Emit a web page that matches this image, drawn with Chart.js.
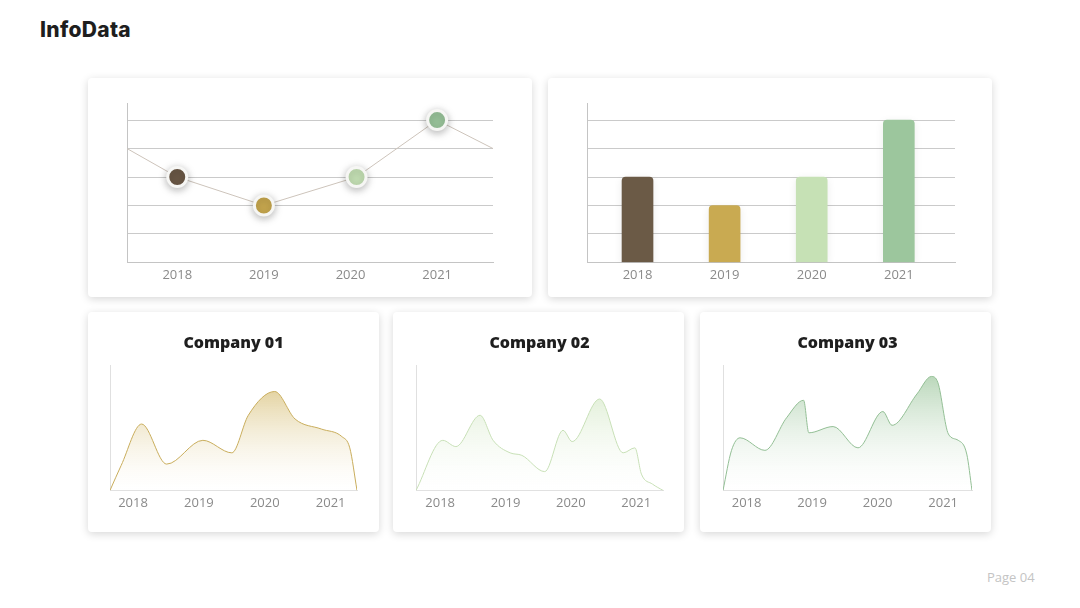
<!DOCTYPE html>
<html>
<head>
<meta charset="utf-8">
<script src="https://cdn.jsdelivr.net/npm/chart.js@4.4.0/dist/chart.umd.min.js"></script>
<style>
  html, body { margin: 0; padding: 0; background: #fff; }
  body { width: 1080px; height: 608px; position: relative; overflow: hidden; font-family: 'Open Sans', sans-serif; }
  h1 { position: absolute; left: 40px; top: 17px; margin: 0; font: 800 21px 'Inter', sans-serif; color: #1e1e1e; letter-spacing: 0.3px; }
  .card { position: absolute; background: #fff; border-radius: 4px; box-shadow: 0 2px 9px rgba(0,0,0,0.16); }
  .card canvas { position: absolute; left: 0; top: 0; }
  .page { position: absolute; left: 987px; top: 568px; font-size: 13px; color: #c4c4c4; }
</style>
</head>
<body>
<h1>InfoData</h1>

<div class="card" style="left:88px;top:78px;width:444px;height:219px"><canvas id="trendChart" width="444" height="219"></canvas></div>
<div class="card" style="left:548px;top:78px;width:444px;height:219px"><canvas id="barChart" width="444" height="219"></canvas></div>
<div class="card" style="left:88px;top:312px;width:291px;height:220px"><canvas id="company1" width="291" height="220"></canvas></div>
<div class="card" style="left:393px;top:312px;width:291px;height:220px"><canvas id="company2" width="291" height="220"></canvas></div>
<div class="card" style="left:700px;top:312px;width:291px;height:220px"><canvas id="company3" width="291" height="220"></canvas></div>

<div class="page">Page 04</div>

<script>
// tick labels
const yearTicks = [2018, 2019, 2020, 2021];
const levelTicks = [0, 1, 2, 3, 4, 5];

// top left: line with coloured markers (first/last points run to the edges)
const trendYears = [2017.42, 2018, 2019, 2020.07, 2021, 2021.645];
const trendValues = [4, 3, 2, 3, 5, 4];
const markerColors = ['#6b5846', '#c9a94f', '#c6e2b6', '#9bc69c'];

// top right: bars
const barYears = [2018, 2019, 2020, 2021];
const barValues = [3, 2, 3, 5];
const barColors = ['#6b5a46', '#c9aa51', '#c6e1b5', '#9cc69d'];

// bottom: area charts
const company1Years = [2017.65, 2017.82, 2018.13, 2018.51, 2019.06, 2019.5, 2019.75, 2020.15, 2020.46, 2020.86, 2021.17, 2021.29, 2021.4];
const company1Values = [0, 20, 53, 21, 40, 30, 60, 79, 57, 49, 43, 34, 0];

const company2Years = [2017.63, 2018.04, 2018.24, 2018.61, 2018.81, 2019.07, 2019.25, 2019.6, 2019.88, 2020.02, 2020.44, 2020.8, 2020.98, 2021.08, 2021.25, 2021.41];
const company2Values = [0, 40, 35, 60, 40, 30, 28, 15, 48, 39, 73, 30, 34, 13, 5, 0];

const company3Years = [2017.64, 2017.77, 2017.9, 2018.28, 2018.61, 2018.87, 2018.95, 2019.32, 2019.7, 2020.08, 2020.22, 2020.6, 2020.82, 2020.92, 2021.08, 2021.23, 2021.36, 2021.44];
const company3Values = [0, 32, 42, 32, 58, 72, 46, 51, 34, 63, 52, 77, 91, 86, 45, 40, 29, 0];

Chart.defaults.font.family = "'Open Sans', sans-serif";
Chart.defaults.color = '#8a8a8a';
Chart.defaults.animation = false;

// soft drop shadow for datasets that ask for it
const shadowPlugin = {
    id: 'softShadow',
    beforeDatasetDraw(chart, args) {
        const ds = chart.data.datasets[args.index];
        if (!ds.shadowColor) return;
        chart.ctx.save();
        chart.ctx.shadowColor = ds.shadowColor;
        chart.ctx.shadowBlur = ds.shadowBlur || 6;
        chart.ctx.shadowOffsetY = 2;
    },
    afterDatasetDraw(chart, args) {
        if (chart.data.datasets[args.index].shadowColor) chart.ctx.restore();
    }
};
Chart.register(shadowPlugin);

const toPoints = (xs, ys) => xs.map((x, i) => ({ x: x, y: ys[i] }));

function yearAxis(min, max, borderColor) {
    return {
        type: 'linear',
        min: min,
        max: max,
        offset: false,
        grid: { display: false, drawTicks: false, offset: false },
        border: { display: true, color: borderColor },
        afterBuildTicks: scale => { scale.ticks = yearTicks.map(v => ({ value: v })); },
        ticks: { padding: 5, maxRotation: 0, autoSkip: false, font: { size: 13 }, color: '#8a8a8a', callback: v => String(v) }
    };
}

function levelAxis() {
    return {
        min: 0,
        max: 5.6,
        grid: { color: '#cacaca', drawTicks: false },
        border: { display: true, color: '#c4c4c4' },
        afterBuildTicks: scale => { scale.ticks = levelTicks.map(v => ({ value: v })); },
        ticks: { display: false }
    };
}

const noLegend = { legend: { display: false }, tooltip: { enabled: false } };

// Top left - line chart
new Chart(document.getElementById('trendChart'), {
    type: 'line',
    data: {
        datasets: [{
            data: toPoints(trendYears, trendValues),
            borderColor: '#cdc4bb',
            borderWidth: 1,
            pointRadius: 0,
            tension: 0,
            order: 2
        }, {
            data: toPoints(trendYears.slice(1, 5), trendValues.slice(1, 5)),
            showLine: false,
            pointRadius: 9.5,
            pointBorderWidth: 3,
            pointBackgroundColor: markerColors,
            pointBorderColor: '#f6f6f4',
            shadowColor: 'rgba(0,0,0,0.28)',
            shadowBlur: 8,
            clip: false,
            order: 1
        }]
    },
    options: {
        responsive: false,
        layout: { padding: { left: 39, right: 39, top: 25, bottom: 9 } },
        plugins: noLegend,
        scales: { x: yearAxis(2017.42, 2021.645, '#c4c4c4'), y: levelAxis() }
    }
});

// Top right - bar chart
new Chart(document.getElementById('barChart'), {
    type: 'bar',
    data: {
        datasets: [{
            data: toPoints(barYears, barValues),
            backgroundColor: barColors,
            barThickness: 31,
            borderRadius: { topLeft: 4, topRight: 4 },
            borderSkipped: 'bottom',
            shadowColor: 'rgba(0,0,0,0.08)',
            shadowBlur: 8
        }]
    },
    options: {
        responsive: false,
        layout: { padding: { left: 39, right: 37, top: 25, bottom: 9 } },
        plugins: noLegend,
        scales: { x: yearAxis(2017.42, 2021.645, '#c4c4c4'), y: levelAxis() }
    }
});

// Bottom - company area charts
function areaChart(id, title, xs, ys, range, pad, lineColor, topColor, bottomColor) {
    new Chart(document.getElementById(id), {
        type: 'line',
        data: {
            datasets: [{
                data: toPoints(xs, ys),
                borderColor: lineColor,
                borderWidth: 1,
                pointRadius: 0,
                fill: 'origin',
                cubicInterpolationMode: 'monotone',
                backgroundColor: ctx => {
                    const area = ctx.chart.chartArea;
                    if (!area) return topColor;
                    const g = ctx.chart.ctx.createLinearGradient(0, area.top, 0, area.bottom);
                    g.addColorStop(0, topColor);
                    g.addColorStop(1, bottomColor);
                    return g;
                }
            }]
        },
        options: {
            responsive: false,
            layout: { padding: { left: pad[0], right: pad[1], top: 0, bottom: 16 } },
            plugins: {
                legend: { display: false },
                tooltip: { enabled: false },
                title: {
                    display: true,
                    text: title,
                    color: '#1e1e1e',
                    font: { size: 16, weight: '800' },
                    padding: { top: 22, bottom: 12 }
                }
            },
            scales: {
                x: yearAxis(range[0], range[1], '#e0e0e0'),
                y: {
                    min: 0,
                    max: 100,
                    grid: { display: false, drawTicks: false },
                    border: { display: true, color: '#e0e0e0' },
                    ticks: { display: false }
                }
            }
        }
    });
}

areaChart('company1', 'Company 01', company1Years, company1Values, [2017.65, 2021.4], [22, 22],
    '#c9ad5c', 'rgba(212,186,108,0.95)', 'rgba(255,255,255,0.2)');
areaChart('company2', 'Company 02', company2Years, company2Values, [2017.63, 2021.41], [23, 21],
    '#c8e0b7', 'rgba(206,229,190,0.95)', 'rgba(255,255,255,0.2)');
areaChart('company3', 'Company 03', company3Years, company3Values, [2017.64, 2021.44], [23, 19],
    '#93bf95', 'rgba(170,206,170,0.95)', 'rgba(255,255,255,0.2)');
</script>
</body>
</html>
